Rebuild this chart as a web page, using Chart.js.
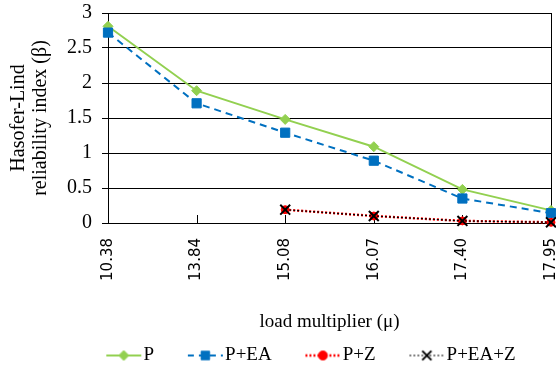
<!DOCTYPE html>
<html>
<head>
<meta charset="utf-8">
<script src="https://cdn.jsdelivr.net/npm/chart.js@4.4.1/dist/chart.umd.min.js"></script>
<style>
  html, body { margin: 0; padding: 0; background: #fff; overflow: hidden; }
  #wrap { width: 556px; height: 371px; overflow: hidden; }
</style>
</head>
<body>
<div id="wrap"><canvas id="chart" width="560" height="371"></canvas></div>
<script>
// données
const categories = ['10.38', '13.84', '15.08', '16.07', '17.40', '17.95'];
const seriesP    = [2.81, 1.89, 1.48, 1.09, 0.48, 0.18];
const seriesPEA  = [2.72, 1.71, 1.29, 0.89, 0.35, 0.14];
const seriesPZ   = [null, null, 0.19, 0.10, 0.03, 0.01];
const seriesPEAZ = [null, null, 0.19, 0.10, 0.03, 0.01];
const yTicks = [0, 0.5, 1, 1.5, 2, 2.5, 3];

const serif = "'Liberation Serif', 'Times New Roman', serif";

//---------------------------------------------------------------------
// LEGENDE : trait + marqueur (style Excel)
//---------------------------------------------------------------------
function legendImage(color, width, dash, marker, radius, markerWidth) {
    const c = document.createElement('canvas');
    c.width = 68;
    c.height = 20;
    const g = c.getContext('2d');
    g.strokeStyle = color;
    g.fillStyle = color;
    g.lineWidth = width;
    g.setLineDash(dash);
    g.beginPath();
    g.moveTo(32, 10);
    g.lineTo(67, 10);
    g.stroke();
    g.setLineDash([]);
    g.lineWidth = markerWidth;
    Chart.helpers.drawPoint(g, { pointStyle: marker, radius: radius, rotation: 0, borderWidth: markerWidth }, 49.5, 10);
    return c;
}

// petites graduations vers l'intérieur sur l'axe x
const innerTicks = {
    id: 'innerTicks',
    beforeDatasetsDraw(chart) {
        const x = chart.scales.x;
        const ctx = chart.ctx;
        ctx.save();
        ctx.strokeStyle = '#000';
        ctx.lineWidth = 1;
        x.ticks.forEach((t, i) => {
            const px = Math.round(x.getPixelForTick(i)) + 0.5;
            ctx.beginPath();
            ctx.moveTo(px, x.top);
            ctx.lineTo(px, x.top - 8);
            ctx.stroke();
        });
        ctx.restore();
    }
};

const datasets = [
    {
        label: 'P',
        data: seriesP,
        borderColor: '#92D050',
        backgroundColor: '#92D050',
        borderWidth: 2,
        pointStyle: 'rectRot',
        pointRadius: 5,
        pointBorderWidth: 1,
        order: 4
    },
    {
        label: 'P+EA',
        data: seriesPEA,
        borderColor: '#0070C0',
        backgroundColor: '#0070C0',
        borderWidth: 2,
        borderDash: [7, 5],
        pointStyle: 'rect',
        pointRadius: 6.5,
        pointBorderWidth: 1,
        order: 3
    },
    {
        label: 'P+Z',
        data: seriesPZ,
        borderColor: '#FF0000',
        backgroundColor: '#FF0000',
        borderWidth: 2.5,
        borderDash: [2, 2],
        pointStyle: 'circle',
        pointRadius: 4,
        pointBorderWidth: 1,
        order: 2
    },
    {
        label: 'P+EA+Z',
        data: seriesPEAZ,
        borderColor: '#000000',
        backgroundColor: '#000000',
        borderWidth: 1.2,
        borderDash: [2, 2],
        pointStyle: 'crossRot',
        pointRadius: 7,
        pointBorderWidth: 2,
        order: 1
    }
];

const legendImages = [
    legendImage('#92D050', 2, [], 'rectRot', 5, 1),
    legendImage('#0070C0', 2, [6, 5], 'rect', 6, 1),
    legendImage('#FF0000', 2.5, [2, 2], 'circle', 4.5, 1),
    legendImage('#000000', 1, [2, 2], 'crossRot', 6.5, 2)
];

new Chart(document.getElementById('chart'), {
    type: 'line',
    data: {
        labels: categories,
        datasets: datasets.map(d => Object.assign({ fill: false, tension: 0, clip: false }, d))
    },
    options: {
        responsive: false,
        animation: false,
        layout: { padding: { top: 13, right: 0, bottom: -4, left: 38 } },
        plugins: {
            tooltip: { enabled: false },
            legend: {
                position: 'bottom',
                labels: {
                    usePointStyle: true,
                    pointStyleWidth: 51.5,
                    padding: 10,
                    color: '#000',
                    font: { family: serif, size: 19 },
                    generateLabels: (chart) => chart.data.datasets.map((ds, i) => ({
                        text: ds.label,
                        pointStyle: legendImages[i],
                        datasetIndex: i,
                        hidden: false,
                        lineWidth: 0,
                        fillStyle: 'transparent',
                        strokeStyle: 'transparent',
                        fontColor: '#000'
                    }))
                }
            }
        },
        scales: {
            x: {
                offset: false,
                border: { display: true, color: '#000', width: 1 },
                grid: {
                    drawTicks: false,
                    color: (c) => c.index === categories.length - 1 ? '#000' : 'rgba(0,0,0,0)'
                },
                ticks: {
                    autoSkip: false,
                    minRotation: 90,
                    maxRotation: 90,
                    padding: 15,
                    color: '#000',
                    font: { family: "'DejaVu Sans', sans-serif", size: 15 }
                },
                title: {
                    display: true,
                    text: 'load multiplier (\u03bc)',
                    color: '#000',
                    font: { family: serif, size: 19 },
                    padding: { top: 0, bottom: 3 }
                },
                afterFit: (scale) => {
                    scale.height = 113;
                    scale.paddingLeft = 0;
                    scale.paddingRight = 0;
                }
            },
            y: {
                min: 0,
                max: 3,
                afterBuildTicks: (scale) => {
                    scale.ticks = yTicks.map(v => ({ value: v }));
                },
                border: { display: true, color: '#000', width: 1 },
                grid: { color: '#000', lineWidth: 1, tickLength: 6 },
                ticks: {
                    padding: 10,
                    color: '#000',
                    font: { family: serif, size: 20 },
                    callback: (v) => String(v)
                },
                title: {
                    display: true,
                    text: ['Hasofer-Lind', 'reliability index (\u03b2)'],
                    color: '#000',
                    font: { family: serif, size: 20, lineHeight: 1.1 },
                    padding: { top: -30.5, bottom: 0 }
                },
                afterFit: (scale) => {
                    scale.width = 70;
                    scale.paddingTop = 0;
                    scale.paddingBottom = 0;
                }
            }
        }
    },
    plugins: [innerTicks]
});
</script>
</body>
</html>
